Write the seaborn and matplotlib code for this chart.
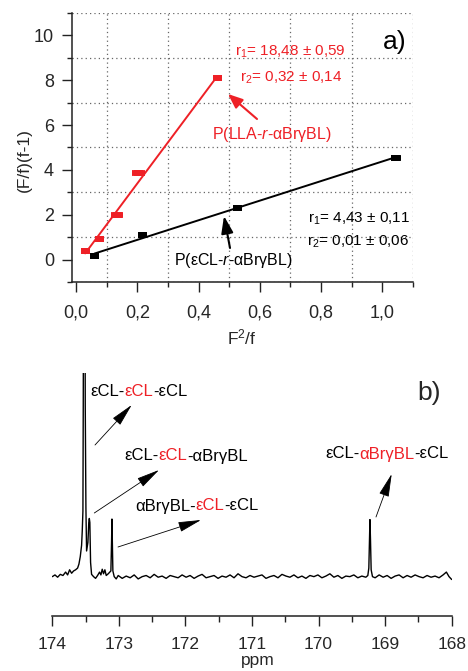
import numpy as np
import pandas as pd
import seaborn as sns
import matplotlib.pyplot as plt
from matplotlib.ticker import MultipleLocator, FixedLocator

# ---- panel a) Fineman-Ross data ----
red_x = [0.030, 0.076, 0.135, 0.204, 0.461]
red_y = [0.37, 0.93, 1.99, 3.86, 8.09]
red_xerr = [0.0, 0.0, 0.020, 0.020, 0.0]
black_x = [0.060, 0.218, 0.526, 1.044]
black_y = [0.15, 1.10, 2.30, 4.55]
black_xerr = [0.0, 0.0, 0.0, 0.016]

xtick_vals = [0.0, 0.2, 0.4, 0.6, 0.8, 1.0]
xtick_labels = ["0,0", "0,2", "0,4", "0,6", "0,8", "1,0"]
ytick_vals = [0, 2, 4, 6, 8, 10]

red_r1 = "r$_1$= 18,48 ± 0,59"
red_r2 = "r$_2$= 0,32 ± 0,14"
red_name = "P(LLA-$\\mathit{r}$-αBrγBL)"
black_r1 = "r$_1$= 4,43 ± 0,11"
black_r2 = "r$_2$= 0,01 ± 0,06"
black_name = "P(εCL-$\\mathit{r}$-αBrγBL)"

# ---- panel b) 13C NMR carbonyl region ----
spec_ppm = [
    # left baseline + main peaks
    174.00, 173.96, 173.92, 173.88, 173.84, 173.80, 173.77, 173.74, 173.71, 173.68,
    173.65, 173.62, 173.60, 173.58, 173.56, 173.55, 173.54, 173.535, 173.52, 173.505,
    173.495, 173.485, 173.465, 173.452, 173.444, 173.436, 173.425, 173.41, 173.38, 173.35,
    173.32, 173.29, 173.27, 173.25, 173.23, 173.21, 173.19, 173.16, 173.12, 173.11,
    173.104, 173.098, 173.09, 173.07, 173.04,
    # baseline
    173.01, 172.95, 172.89, 172.83, 172.77, 172.71, 172.65, 172.59, 172.53, 172.47,
    172.41, 172.35, 172.29, 172.23, 172.17, 172.11, 172.05, 171.99, 171.93, 171.87,
    171.81, 171.75, 171.69, 171.63, 171.57, 171.51, 171.45, 171.39, 171.33, 171.27,
    171.21, 171.15, 171.09, 171.03, 170.97, 170.91, 170.85, 170.79, 170.73, 170.67,
    170.61, 170.55, 170.49, 170.43, 170.37, 170.31, 170.25, 170.19, 170.13, 170.07,
    170.01, 169.95, 169.89, 169.83, 169.77, 169.71, 169.65, 169.59, 169.53, 169.47,
    169.41, 169.35, 169.29,
    # aBrgBL peak
    169.26, 169.245, 169.235, 169.228, 169.22, 169.21, 169.19,
    # right baseline
    169.15, 169.09, 169.03, 168.97, 168.91, 168.85, 168.79, 168.73, 168.67, 168.61,
    168.55, 168.49, 168.43, 168.37, 168.31, 168.25, 168.19, 168.13, 168.08, 168.04,
    168.00,
]
spec_int = [
    0.00, 0.03, -0.01, 0.04, 0.02, 0.08, 0.03, 0.12, 0.06, 0.10,
    0.12, 0.15, 0.22, 0.35, 0.55, 0.80, 1.15, 3.00, 12.0, 3.00,
    1.20, 0.45, 0.60, 0.95, 1.02, 0.95, 0.25, 0.04, 0.00, -0.03,
    0.02, 0.08, 0.03, 0.13, 0.05, 0.12, 0.02, 0.05, 0.10, 0.60,
    1.01, 0.60, 0.10, 0.00, -0.04,
    0.02, -0.03, 0.01, -0.02, 0.03, -0.04, 0.00, 0.02, -0.02, 0.04,
    -0.01, 0.01, -0.03, 0.02, 0.00, -0.02, 0.03, -0.01, 0.02, -0.03,
    0.01, 0.04, -0.02, 0.00, 0.02, -0.03, 0.01, -0.01, 0.03, -0.02,
    0.05, 0.00, -0.02, 0.02, -0.01, 0.01, 0.03, -0.03, 0.00, 0.02,
    -0.02, 0.04, 0.01, -0.01, 0.03, -0.02, 0.01, -0.03, 0.02, 0.00,
    0.03, -0.02, 0.01, 0.05, -0.01, 0.02, -0.03, 0.01, 0.00, 0.03,
    -0.02, 0.01, -0.01,
    0.02, 0.15, 0.70, 1.00, 0.65, 0.12, 0.00,
    -0.02, 0.03, -0.01, 0.02, -0.03, 0.01, 0.03, -0.02, 0.02, -0.01,
    0.03, 0.00, -0.02, 0.02, -0.01, 0.01, -0.02, 0.03, 0.08, 0.00,
    -0.05,
]
ppm_ticks = [174, 173, 172, 171, 170, 169, 168]

label1 = [("εCL-", "k"), ("εCL", "r"), ("-εCL", "k")]
label2 = [("εCL-", "k"), ("εCL", "r"), ("-αBrγBL", "k")]
label3 = [("αBrγBL-", "k"), ("εCL", "r"), ("-εCL", "k")]
label4 = [("εCL-", "k"), ("αBrγBL", "r"), ("-εCL", "k")]

RED = "#ee2026"
W, H = 468, 671

sns.set_style("ticks")
plt.rcParams["font.family"] = ["Liberation Sans", "DejaVu Sans"]
plt.rcParams["mathtext.fontset"] = "custom"
plt.rcParams["mathtext.rm"] = "Liberation Sans"
plt.rcParams["mathtext.it"] = "Liberation Sans:italic"

fig = plt.figure(figsize=(W / 100, H / 100), dpi=100)
fig.patch.set_facecolor("white")


def px(x, y):
    # figure pixel coords measured from the top-left
    return (x, H - y)


# ================= panel a =================
ax1 = fig.add_axes([72 / W, 1 - 282 / H, 341 / W, 269 / H])
df_red = pd.DataFrame({"x": red_x, "y": red_y})
df_black = pd.DataFrame({"x": black_x, "y": black_y})

sns.regplot(data=df_red, x="x", y="y", ax=ax1, scatter=False, ci=None,
            truncate=True, color=RED, line_kws={"lw": 1.4})
sns.regplot(data=df_black, x="x", y="y", ax=ax1, scatter=False, ci=None,
            truncate=True, color="black", line_kws={"lw": 1.4})

rect = [(-1.5, -1), (1.5, -1), (1.5, 1), (-1.5, 1), (-1.5, -1)]
sns.scatterplot(data=df_red, x="x", y="y", ax=ax1, marker=rect, s=40,
                color=RED, edgecolor="none", zorder=4)
sns.scatterplot(data=df_black, x="x", y="y", ax=ax1, marker=rect, s=40,
                color="black", edgecolor="none", zorder=4)
ax1.errorbar(red_x, red_y, xerr=red_xerr, fmt="none", ecolor=RED,
             elinewidth=4.2, capsize=0, zorder=4)
ax1.errorbar(black_x, black_y, xerr=black_xerr, fmt="none", ecolor="black",
             elinewidth=4.2, capsize=0, zorder=4)

ax1.set_xlim(-0.013, 1.1)
ax1.set_ylim(-1, 11)
ax1.xaxis.set_major_locator(FixedLocator(xtick_vals))
ax1.set_xticklabels(xtick_labels)
ax1.xaxis.set_minor_locator(FixedLocator([0.1, 0.3, 0.5, 0.7, 0.9, 1.1]))
ax1.yaxis.set_major_locator(FixedLocator(ytick_vals))
ax1.yaxis.set_minor_locator(FixedLocator([-1, 1, 3, 5, 7, 9, 11]))
ax1.grid(which="minor", ls=(0, (1, 2.5)), color="#666666", lw=0.9)
ax1.grid(which="major", visible=False)
ax1.set_xlabel("")
ax1.set_ylabel("")
for side in ["top", "right"]:
    ax1.spines[side].set_visible(False)
for side in ["left", "bottom"]:
    ax1.spines[side].set_linewidth(1.1)
    ax1.spines[side].set_color("#222222")
ax1.tick_params(which="major", direction="out", length=7, width=1,
                labelsize=13, color="#222222")
ax1.tick_params(axis="y", which="major", pad=6)
ax1.tick_params(axis="x", which="major", pad=9)
ax1.tick_params(which="minor", direction="out", length=3.5, width=1,
                color="#222222")

fig.text(24 / W, 1 - 160 / H, "(F/f)(f-1)", rotation=90, ha="center",
         va="center", fontsize=12.5)
fig.text(242 / W, 1 - 337 / H, "F$^2$/f", ha="center", va="center",
         fontsize=12.5)


def put(text, x, y, size, color="black", **kw):
    return ax1.annotate(text, xy=px(x, y), xycoords="figure pixels",
                        ha="left", va="center", fontsize=size, color=color,
                        annotation_clip=False, **kw)


put(red_r1, 235, 52, 11, RED)
put(red_r2, 240, 78, 11, RED)
put(red_name, 212, 135, 11.5, RED)
put(black_r1, 308, 219, 11)
put(black_r2, 307, 242, 11)
put(black_name, 174, 261, 11.5)
put("a)", 383, 42, 19)

ax1.annotate("", xy=px(228, 94), xytext=px(257, 119), xycoords="figure pixels",
             textcoords="figure pixels", annotation_clip=False,
             arrowprops=dict(arrowstyle="-|>,head_length=1.1,head_width=0.45",
                             color=RED, lw=1.5, mutation_scale=8,
                             shrinkA=0, shrinkB=0))
ax1.annotate("", xy=px(224, 216), xytext=px(230, 248), xycoords="figure pixels",
             textcoords="figure pixels", annotation_clip=False,
             arrowprops=dict(arrowstyle="-|>,head_length=1.3,head_width=0.45",
                             color="black", lw=1.5, mutation_scale=8,
                             shrinkA=0, shrinkB=0))

# ================= panel b =================
ax2 = fig.add_axes([52.3 / W, 1 - 616 / H, 399.4 / W, 243 / H])
df_spec = pd.DataFrame({"ppm": spec_ppm, "intensity": spec_int})
sns.lineplot(data=df_spec, x="ppm", y="intensity", ax=ax2, color="black",
             lw=1.0, sort=False, estimator=None)
ax2.set_xlim(174, 168)
ax2.set_ylim(-0.69, 3.57)
ax2.xaxis.set_major_locator(FixedLocator(ppm_ticks))
ax2.xaxis.set_minor_locator(MultipleLocator(0.5))
ax2.set_yticks([])
ax2.set_ylabel("")
ax2.set_xlabel("")
fig.text(258 / W, 1 - 661 / H, "ppm", ha="center", va="center",
         fontsize=12.5)
for side in ["top", "right", "left"]:
    ax2.spines[side].set_visible(False)
ax2.spines["bottom"].set_linewidth(1.1)
ax2.spines["bottom"].set_color("#222222")
ax2.tick_params(axis="x", which="major", direction="out", length=7, width=1,
                labelsize=12.5, pad=8, color="#222222")
ax2.tick_params(axis="x", which="minor", direction="out", length=4, width=1,
                color="#222222")


def colored(parts, x, y, size=12):
    prev = None
    for s, c in parts:
        col = RED if c == "r" else "black"
        if prev is None:
            prev = ax2.annotate(s, xy=px(x, y), xycoords="figure pixels",
                                ha="left", va="center", fontsize=size,
                                color=col, annotation_clip=False)
        else:
            prev = ax2.annotate(s, xy=(1, 0), xycoords=prev, ha="left",
                                va="bottom", fontsize=size, color=col,
                                annotation_clip=False)


colored(label1, 90, 391)
colored(label2, 124, 456)
colored(label3, 135, 506)
colored(label4, 325, 454)
ax2.annotate("b)", xy=px(417, 393), xycoords="figure pixels", ha="left",
             va="center", fontsize=19, annotation_clip=False)

for tail, head in [((95, 445), (131.7, 405)), ((94.3, 513), (159, 470)),
                   ((118, 547), (201, 520)), ((376, 517), (391.7, 474))]:
    ax2.annotate("", xy=px(*head), xytext=px(*tail), xycoords="figure pixels",
                 textcoords="figure pixels", annotation_clip=False,
                 arrowprops=dict(arrowstyle="-|>,head_length=1.6,head_width=0.35",
                                 color="black", lw=0.6, mutation_scale=9,
                                 shrinkA=0, shrinkB=0))

fig.savefig("out.png", dpi=100, facecolor="white")
